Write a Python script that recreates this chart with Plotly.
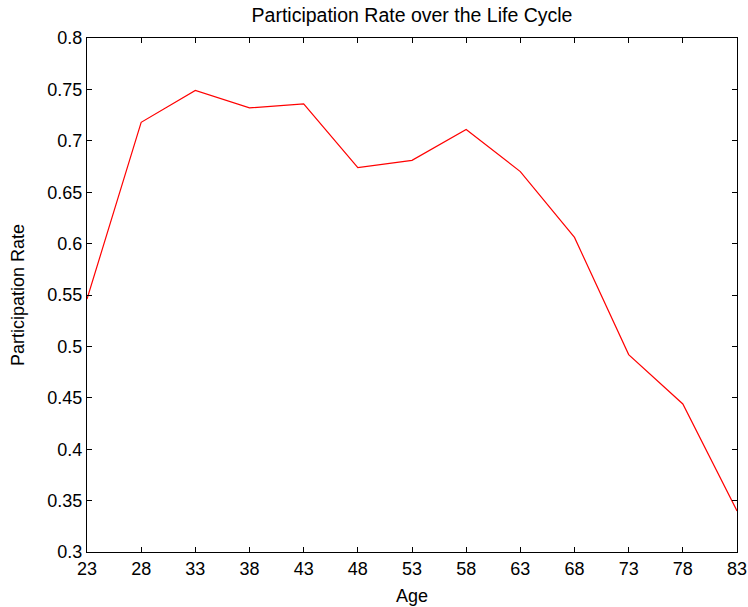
import plotly.graph_objects as go

ages = [23, 28, 33, 38, 43, 48, 53, 58, 63, 68, 73, 78, 83]
participation = [0.546, 0.718, 0.749, 0.732, 0.736, 0.674, 0.681, 0.711, 0.670, 0.606, 0.492, 0.444, 0.340]
x_ticks = [23, 28, 33, 38, 43, 48, 53, 58, 63, 68, 73, 78, 83]
y_ticks = [0.3, 0.35, 0.4, 0.45, 0.5, 0.55, 0.6, 0.65, 0.7, 0.75, 0.8]

FONT = "Liberation Sans, Arial, sans-serif"
W, H = 748, 607

fig = go.Figure()
fig.add_trace(go.Scatter(x=ages, y=participation, mode="lines",
                         line=dict(color="#ff0000", width=1.2), showlegend=False))

axis_common = dict(showgrid=False, zeroline=False, showline=True, linecolor="black",
                   linewidth=1, mirror="allticks", ticks="inside", ticklen=5,
                   tickcolor="black", tickwidth=1, automargin=False,
                   tickfont=dict(family=FONT, size=18, color="black"))

fig.update_layout(
    width=W, height=H,
    margin=dict(l=87, r=11, t=38, b=55),
    paper_bgcolor="white", plot_bgcolor="white",
    title=dict(text="Participation Rate over the Life Cycle", x=0.5, xanchor="center",
               xref="paper",
               y=1 - 15 / H, yanchor="middle",
               font=dict(family=FONT, size=19.5, color="black")),
    xaxis=dict(range=[23, 83], tickvals=x_ticks, ticktext=[str(v) for v in x_ticks],
               title=dict(text="Age", font=dict(family=FONT, size=18, color="black"), standoff=11),
               **axis_common),
    yaxis=dict(range=[0.3, 0.8], tickvals=y_ticks, ticktext=[f"{v:g}" for v in y_ticks],
               title=dict(text="Participation Rate", font=dict(family=FONT, size=18, color="black"), standoff=18),
               **axis_common),
)

fig.write_html("out.html", config={"displayModeBar": False},
               post_script="document.body.style.margin='0';document.body.style.overflow='hidden';")
